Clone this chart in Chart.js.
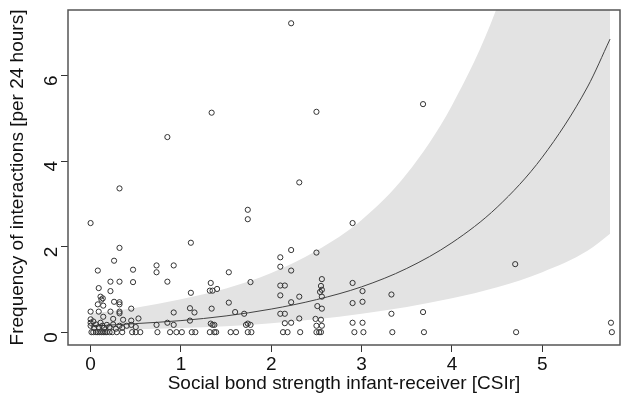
<!DOCTYPE html>
<html>
<head>
<meta charset="utf-8">
<script src="https://cdn.jsdelivr.net/npm/chart.js@4"></script>
<style>
  html, body { margin: 0; padding: 0; background: #fff; }
  #wrap { width: 625px; height: 406px; }
</style>
</head>
<body>
<div id="wrap"><canvas id="chart" width="625" height="406"></canvas></div>
<script>
// observed points: CSIr vs interaction frequency
const obsX = [
  0.01, 0.03, 0.06, 0.08, 0.10, 0.12, 0.14, 0.16, 0.18, 0.21, 0.24, 0.29, 0.35, 0.46, 0.50, 0.55,
  0.74, 0.88, 0.95, 1.01, 1.12, 1.16, 1.32, 1.37, 1.39, 1.55, 1.61, 1.74, 1.78, 2.13, 2.18, 2.32,
  2.50, 2.53, 2.55, 2.92, 3.02, 3.34, 3.69, 4.71, 5.77,
  0.00, 0.32, 0.32, 0.26, 0.08, 0.47, 0.22, 0.32, 0.47, 0.09, 0.22, 0.11, 0.135, 0.12, 0.08, 0.14,
  0.26, 0.32, 0.32, 0.00, 0.09, 0.22, 0.32, 0.32, 0.45, 0.53, 0.36, 0.25, 0.14, 0.45,
  0.00, 0.00, 0.00, 0.03, 0.04, 0.06, 0.09, 0.11, 0.13, 0.15, 0.18, 0.21, 0.25, 0.28, 0.32, 0.35,
  0.40, 0.45, 0.50,
  0.73, 0.73, 0.92, 0.85, 0.92, 0.85, 0.92, 0.73, 0.85, 1.34,
  1.11, 1.11, 1.10, 1.15, 1.10, 1.33, 1.32, 1.35, 1.40, 1.34, 1.33, 1.35, 1.37,
  1.53, 1.53, 1.60, 1.70, 1.74, 1.74, 1.77, 1.72, 1.74, 1.77,
  2.31, 2.90, 2.22, 2.50, 2.10, 2.10, 2.22, 2.56, 2.55, 2.56, 2.54, 2.56, 2.10, 2.15, 2.10, 2.31,
  2.22, 2.51, 2.56, 2.90, 3.01, 2.90, 3.01, 3.33, 3.33, 3.68, 2.10, 2.15, 2.31, 2.22, 2.15, 2.49,
  2.55, 2.50, 2.56, 2.90, 3.01,
  2.22, 2.50, 3.68, 4.70, 5.76
];
const obsY = [
  0, 0, 0, 0, 0, 0, 0, 0, 0, 0, 0, 0, 0, 0, 0, 0,
  0, 0, 0, 0, 0, 0, 0, 0, 0, 0, 0, 0, 0, 0, 0, 0,
  0, 0, 0, 0, 0, 0, 0, 0, 0,
  2.55, 3.36, 1.97, 1.67, 1.44, 1.46, 1.18, 1.18, 1.17, 1.03, 0.96, 0.83, 0.79, 0.76, 0.65, 0.62,
  0.71, 0.70, 0.65, 0.48, 0.48, 0.48, 0.48, 0.44, 0.55, 0.32, 0.29, 0.31, 0.36, 0.27,
  0.30, 0.22, 0.15, 0.25, 0.10, 0.18, 0.12, 0.22, 0.15, 0.10, 0.17, 0.12, 0.18, 0.08, 0.15, 0.10,
  0.15, 0.17, 0.12,
  1.56, 1.40, 1.56, 1.18, 0.46, 0.22, 0.17, 0.17, 4.56, 5.13,
  2.09, 0.92, 0.56, 0.46, 0.27, 1.15, 0.97, 0.97, 1.01, 0.55, 0.20, 0.17, 0.17,
  1.40, 0.69, 0.47, 0.43, 2.86, 2.64, 1.17, 0.17, 0.20, 0.17,
  3.50, 2.55, 1.92, 1.86, 1.75, 1.53, 1.44, 1.24, 1.08, 0.99, 0.94, 0.83, 1.09, 1.09, 0.86, 0.83,
  0.70, 0.61, 0.55, 1.15, 0.96, 0.68, 0.71, 0.88, 0.43, 0.47, 0.43, 0.43, 0.32, 0.22, 0.21, 0.31,
  0.29, 0.15, 0.15, 0.22, 0.22,
  7.22, 5.15, 5.33, 1.59, 0.22
];

// fitted curve and confidence band
const fitX = [0, 0.5, 1, 1.5, 2, 2.5, 3, 3.5, 4, 4.5, 5, 5.5, 5.75];
const fitY = [0.14, 0.20, 0.27, 0.38, 0.54, 0.76, 1.06, 1.49, 2.09, 2.92, 4.09, 5.73, 6.85];
const upperY = [0.43, 0.57, 0.77, 1.02, 1.38, 1.90, 2.62, 3.70, 5.30, 7.60, 11.0, 16.0, 19.5];
const lowerY = [0.05, 0.07, 0.10, 0.14, 0.21, 0.30, 0.43, 0.59, 0.79, 1.05, 1.40, 1.90, 2.30];

const xTicks = [0, 1, 2, 3, 4, 5];
const yTicks = [0, 2, 4, 6];

const FONT = 'Liberation Sans, Arial, sans-serif';
const INK = '#333';

const pts = (xs, ys) => xs.map((x, i) => ({ x, y: ys[i] }));

// R-style box round the plot area
const frame = {
  id: 'frame',
  afterDraw(chart) {
    const { ctx, chartArea: a } = chart;
    ctx.save();
    ctx.strokeStyle = '#555';
    ctx.lineWidth = 1.5;
    ctx.strokeRect(a.left, a.top, a.right - a.left, a.bottom - a.top);
    ctx.restore();
  }
};

new Chart(document.getElementById('chart'), {
  type: 'scatter',
  data: {
    datasets: [
      {
        label: 'upper',
        type: 'line',
        data: pts(fitX, upperY),
        borderWidth: 0,
        pointRadius: 0,
        cubicInterpolationMode: 'monotone',
        backgroundColor: '#e3e3e3',
        fill: '+1',
        order: 3
      },
      {
        label: 'lower',
        type: 'line',
        data: pts(fitX, lowerY),
        borderWidth: 0,
        pointRadius: 0,
        cubicInterpolationMode: 'monotone',
        fill: false,
        order: 3
      },
      {
        label: 'fit',
        type: 'line',
        data: pts(fitX, fitY),
        borderColor: '#444',
        borderWidth: 1,
        pointRadius: 0,
        cubicInterpolationMode: 'monotone',
        fill: false,
        order: 2
      },
      {
        label: 'observed',
        data: pts(obsX, obsY),
        pointRadius: 2.6,
        pointBorderWidth: 1,
        borderColor: INK,
        backgroundColor: 'rgba(0,0,0,0)',
        order: 1
      }
    ]
  },
  options: {
    responsive: false,
    animation: false,
    layout: { padding: { top: 10, right: 4, left: 0, bottom: 0 } },
    plugins: {
      legend: { display: false },
      tooltip: { enabled: false }
    },
    scales: {
      x: {
        type: 'linear',
        min: -0.25,
        max: 5.86,
        afterBuildTicks: (s) => { s.ticks = xTicks.map(v => ({ value: v })); },
        afterFit: (s) => { s.height = 61; s.paddingLeft = 0; s.paddingRight = 0; },
        ticks: { color: '#111', font: { family: FONT, size: 19 }, padding: 1 },
        grid: { display: true, drawOnChartArea: false, drawTicks: true, tickLength: 7, color: '#333' },
        border: { display: false },
        title: {
          display: true,
          text: 'Social bond strength infant-receiver [CSIr]',
          color: '#111',
          font: { family: FONT, size: 19 },
          padding: { top: 0, bottom: 11 }
        }
      },
      y: {
        type: 'linear',
        min: -0.30,
        max: 7.53,
        afterBuildTicks: (s) => { s.ticks = yTicks.map(v => ({ value: v })); },
        afterFit: (s) => { s.width = 68; s.paddingTop = 0; s.paddingBottom = 0; },
        ticks: { color: '#111', font: { family: FONT, size: 19 }, padding: 9, minRotation: 90, maxRotation: 90 },
        grid: { display: true, drawOnChartArea: false, drawTicks: true, tickLength: 7, color: '#333' },
        border: { display: false },
        title: {
          display: true,
          text: 'Frequency of interactions [per 24 hours]',
          color: '#111',
          font: { family: FONT, size: 19 },
          padding: { top: 6, bottom: 0 }
        }
      }
    }
  },
  plugins: [frame]
});
</script>
</body>
</html>
